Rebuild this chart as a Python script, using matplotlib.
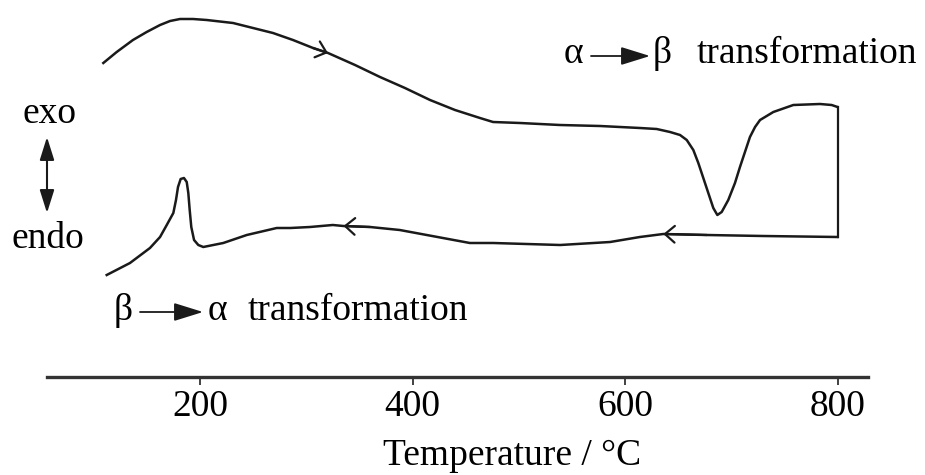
import numpy as np
import matplotlib
matplotlib.use('Agg')
import matplotlib.pyplot as plt
from matplotlib.patches import FancyArrowPatch

plt.rcParams['font.family'] = ['Liberation Serif', 'DejaVu Serif']

# heating run (alpha -> beta), temperature in C, heat flow in arbitrary units
heat_T = [109, 121.6, 136.9, 149.8, 162.4, 171.8, 181.2, 193.4, 206.3, 231.1,
          249.9, 268.7, 287.5, 306.4, 320.5, 345.9, 369.4, 392.9, 416.5, 440,
          463.5, 475.8, 501.2, 538.8, 576.5, 614.1, 629.8, 642.4, 651.8, 658.1,
          664.3, 669.0, 673.7, 678.4, 683.1, 686.9, 691.0, 697.2, 703.5, 708.2,
          712.9, 717.6, 722.4, 727.1, 739.6, 758.4, 783.5, 794.5, 800]
heat_h = [23.7, 24.8, 26.0, 26.8, 27.5, 27.9, 28.1, 28.1, 28.0, 27.7,
          27.2, 26.7, 26.0, 25.2, 24.7, 23.5, 22.3, 21.2, 20.0, 19.0,
          18.2, 17.8, 17.7, 17.5, 17.4, 17.2, 17.1, 16.8, 16.5, 16.0,
          15.0, 13.7, 12.2, 10.7, 9.2, 8.5, 8.8, 10.0, 11.7, 13.3,
          14.8, 16.3, 17.3, 18.0, 18.8, 19.5, 19.6, 19.5, 19.3]

# cooling run (beta -> alpha), from 800 C downwards
cool_T = [800, 730, 677, 636, 614, 586, 539, 476, 454, 388, 360, 335, 325,
          303.5, 285, 272.2, 244.0, 221.9, 203.1, 198.4, 194.4, 191.8, 190.3,
          189.0, 187.5, 184.9, 181.8, 179.3, 177.4, 174.9, 168.7, 162.4, 152.9,
          134.1, 112.2]
cool_h = [6.3, 6.4, 6.5, 6.6, 6.3, 5.8, 5.5, 5.7, 5.7, 7.0, 7.3, 7.4, 7.5,
          7.3, 7.2, 7.2, 6.5, 5.7, 5.3, 5.5, 6.0, 7.3, 9.0,
          10.7, 11.8, 12.2, 12.1, 11.3, 10.0, 8.7, 7.5, 6.3, 5.2,
          3.7, 2.5]

ticks = [200, 400, 600, 800]

W, H = 925, 475
fig = plt.figure(figsize=(W / 100, H / 100), dpi=100)
ax = fig.add_axes([47 / W, 98 / H, 821 / W, 377 / H])

lc = '#1a1a1a'
ax.plot(heat_T, heat_h, color=lc, lw=1.8, solid_joinstyle='round')
ax.plot(cool_T, cool_h, color=lc, lw=1.8, solid_joinstyle='round')
ax.plot([heat_T[-1], cool_T[0]], [heat_h[-1], cool_h[0]], color=lc, lw=1.6)

# direction chevrons on the curves
def chevron(T, h, at):
    i = T.index(at)
    ax.annotate('', xy=(T[i], h[i]), xytext=(T[i - 1], h[i - 1]),
                arrowprops=dict(arrowstyle='->,head_length=0.35,head_width=0.3',
                                color=lc, lw=1.6, shrinkA=0, shrinkB=0,
                                mutation_scale=20))

chevron(heat_T, heat_h, 320.5)
chevron(cool_T, cool_h, 335)
chevron(cool_T, cool_h, 636)

ax.set_xlim(56, 828.7)
ax.set_ylim(-7.7, 30)
ax.set_xticks(ticks)
ax.set_xticklabels([str(t) for t in ticks])
ax.set_yticks([])
for s in ['top', 'right', 'left']:
    ax.spines[s].set_visible(False)
ax.spines['bottom'].set_linewidth(2.4)
ax.spines['bottom'].set_color('#333333')
ax.tick_params(axis='x', direction='out', length=6, width=1.3, color='#333333',
               labelsize=27, pad=3)
ax.set_xlabel('Temperature / °C', fontsize=27, va='baseline')
ax.xaxis.set_label_coords((512 - 47) / 821, (10 - 98) / 377)

def fx(px):
    return px / W

def fy(py):
    return 1 - py / H

fs = 27
fig.text(fx(50), fy(123), 'exo', fontsize=fs, ha='center', va='baseline')
fig.text(fx(48), fy(248), 'endo', fontsize=fs, ha='center', va='baseline')
fig.add_artist(FancyArrowPatch(
    (fx(47), fy(213)), (fx(47), fy(137)), transform=fig.transFigure,
    arrowstyle='<|-|>,head_length=0.7,head_width=0.22', mutation_scale=20,
    color=lc, lw=1.5, shrinkA=0, shrinkB=0))

# alpha -> beta label
fig.text(fx(564), fy(63), 'α', fontsize=fs, ha='left', va='baseline')
fig.add_artist(FancyArrowPatch(
    (fx(591), fy(56)), (fx(650), fy(56)), transform=fig.transFigure,
    arrowstyle='-|>,head_length=0.9,head_width=0.28', mutation_scale=20,
    color=lc, lw=1.3, shrinkA=0, shrinkB=0))
fig.text(fx(653), fy(63), 'β', fontsize=fs, ha='left', va='baseline')
fig.text(fx(697), fy(63), 'transformation', fontsize=fs, ha='left', va='baseline')

# beta -> alpha label
fig.text(fx(114), fy(320), 'β', fontsize=fs, ha='left', va='baseline')
fig.add_artist(FancyArrowPatch(
    (fx(140), fy(312)), (fx(203), fy(312)), transform=fig.transFigure,
    arrowstyle='-|>,head_length=0.9,head_width=0.28', mutation_scale=20,
    color=lc, lw=1.3, shrinkA=0, shrinkB=0))
fig.text(fx(208), fy(320), 'α', fontsize=fs, ha='left', va='baseline')
fig.text(fx(248), fy(320), 'transformation', fontsize=fs, ha='left', va='baseline')

fig.savefig('out.png', dpi=100)
